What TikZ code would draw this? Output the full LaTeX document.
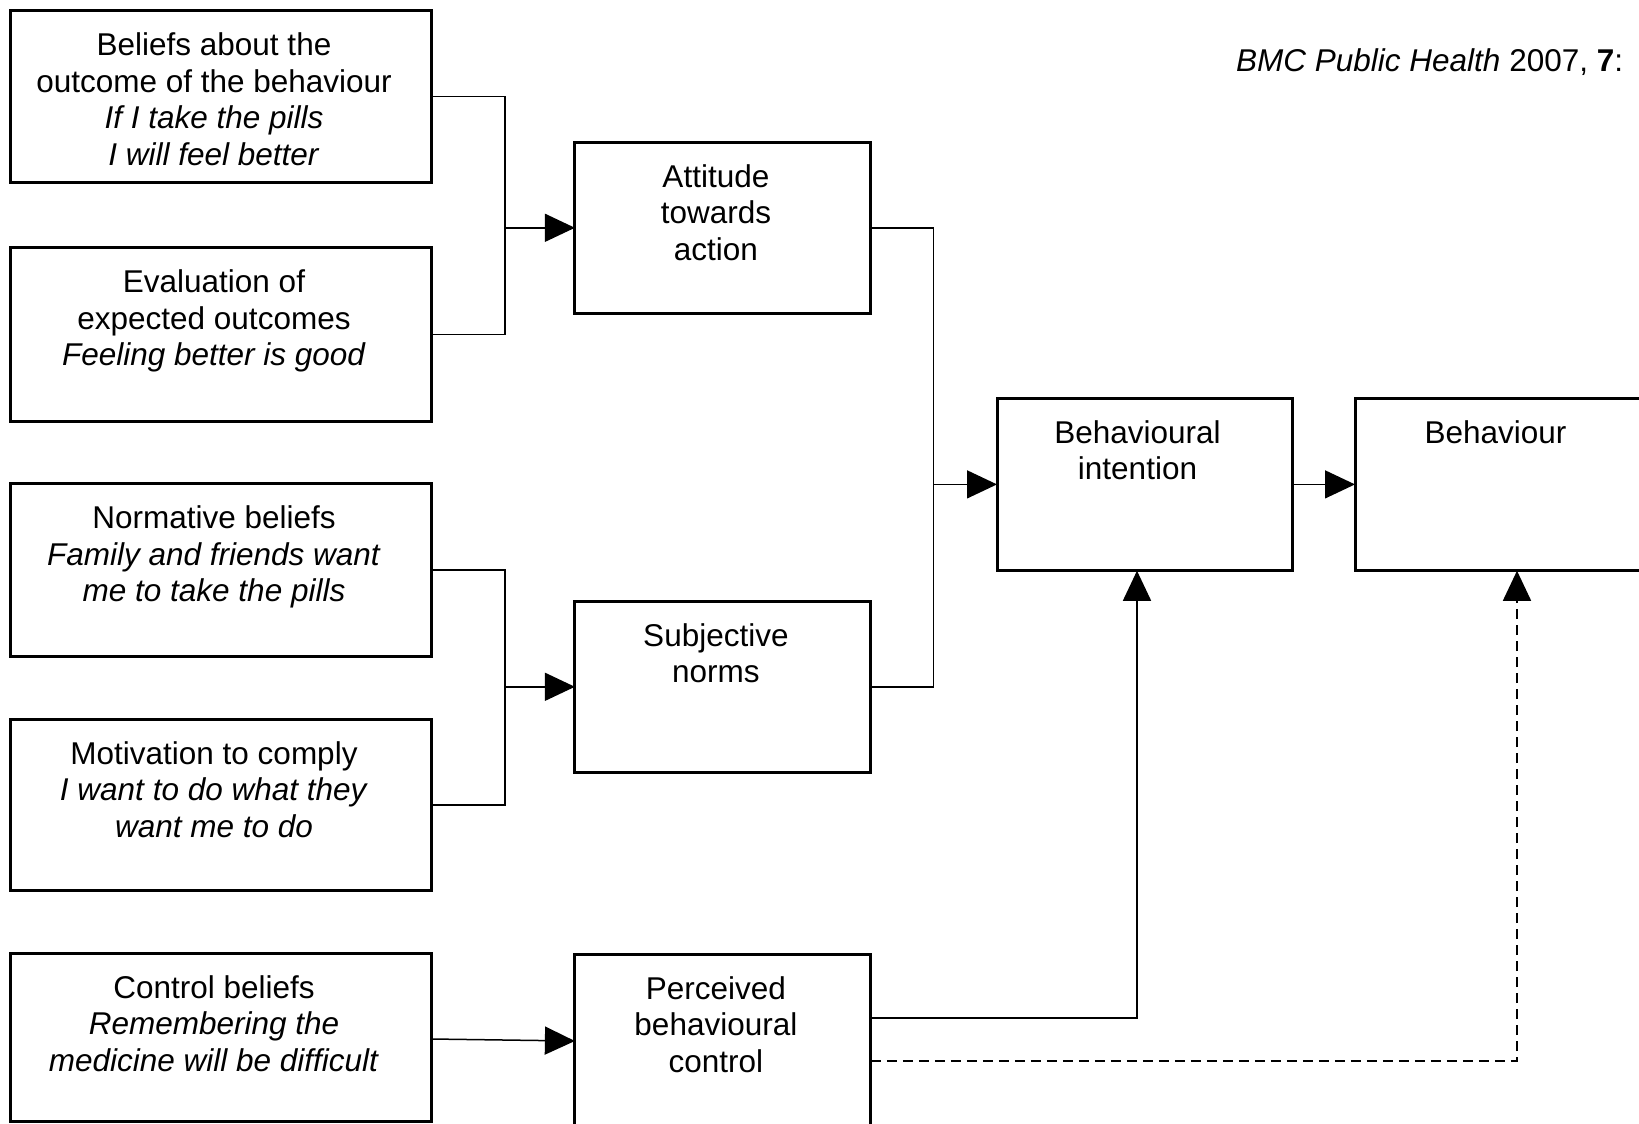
\documentclass[tikz,border=0pt]{standalone}
\usepackage{fontspec}
\setmainfont{Liberation Sans}
\usetikzlibrary{arrows.meta}
\begin{document}
\begin{tikzpicture}[x=1pt,y=-1pt,
  box/.style={draw,line width=3pt,inner sep=0pt,outer sep=0pt},
  lbox/.style={box,minimum width=421pt},
  mbox/.style={box,minimum width=296pt},
  txt/.style={anchor=north,inner sep=0pt,align=center,font=\fontsize{31.5}{36.6}\selectfont},
  conn/.style={line width=1.5pt},
  arr/.style={conn,-{Triangle[length=30pt,width=28pt]}},
  dashline/.style={line width=1.5pt,dash pattern=on 10pt off 6pt,-{Triangle[length=30pt,width=28pt]}}]
\useasboundingbox (0,0) rectangle (1639,1124);
\clip (0,0) rectangle (1639,1124);
% left boxes
\node[lbox,minimum height=172.5pt] (b1) at (221,96.7) {};
\node[lbox,minimum height=173.6pt] (b2) at (221,334.5) {};
\node[lbox,minimum height=172.5pt] (b3) at (221,570) {};
\node[lbox,minimum height=171.6pt] (b4) at (221,804.8) {};
\node[lbox,minimum height=168pt] (b5) at (221,1037) {};
% middle boxes
\node[mbox,minimum height=171.6pt] (att) at (722.9,227.8) {};
\node[mbox,minimum height=171.6pt] (sub) at (722.9,686.8) {};
\node[mbox,minimum height=176pt] (pbc) at (722.9,1042) {};
% right boxes
\node[box,minimum width=295pt,minimum height=172.7pt] (bi) at (1144.5,484.4) {};
\node[box,minimum width=305pt,minimum height=172.7pt] (beh) at (1507.5,484.4) {};
% texts
\node[txt] (t1) at ([xshift=-7pt,yshift=-22pt]b1.north) {Beliefs about the\\outcome of the behaviour\\\textit{If I take the pills}\\\textit{I will feel better}};
\node[txt] (t2) at ([xshift=-7pt,yshift=-22pt]b2.north) {Evaluation of\\expected outcomes\\\textit{Feeling better is good}};
\node[txt] (t3) at ([xshift=-7pt,yshift=-22pt]b3.north) {Normative beliefs\\\textit{Family and friends want}\\\textit{me to take the pills}};
\node[txt] (t4) at ([xshift=-7pt,yshift=-22pt]b4.north) {Motivation to comply\\\textit{I want to do what they}\\\textit{want me to do}};
\node[txt] (t5) at ([xshift=-7pt,yshift=-22pt]b5.north) {Control beliefs\\\textit{Remembering the}\\\textit{medicine will be difficult}};
\node[txt] (tatt) at ([xshift=-7pt,yshift=-22pt]att.north) {Attitude\\towards\\action};
\node[txt] (tsub) at ([xshift=-7pt,yshift=-22pt]sub.north) {Subjective\\norms};
\node[txt] (tpbc) at ([xshift=-7pt,yshift=-22pt]pbc.north) {Perceived\\behavioural\\control};
\node[txt] (tbi) at ([xshift=-7pt,yshift=-22pt]bi.north) {Behavioural\\intention};
\node[txt] (tbeh) at ([xshift=-12pt,yshift=-22pt]beh.north) {Behaviour};
\node[anchor=base west,inner sep=0pt,font=\fontsize{31.5}{36.6}\selectfont] (hdr) at (1236,72) {\textit{BMC Public Health} 2007, \textbf{7}:};
% connectors
\coordinate (j1) at (505,227.8);
\coordinate (j2) at (933.5,484.4);
\coordinate (j3) at (505,686.8);
\coordinate (c1) at (1137,1018);
\coordinate (c2) at (1517,1061);
\coordinate (s5) at (431.7,1039);
\coordinate (e5) at (575,1041);
\draw[conn] (b1.east) -| (j1) |- (b2.east);
\draw[arr] (j1) -- (att.west);
\draw[conn] (att.east) -| (j2) |- (sub.east);
\draw[arr] (j2) -- (bi.west);
\draw[conn] (b3.east) -| (j3) |- (b4.east);
\draw[arr] (j3) -- (sub.west);
\draw[arr] (b5.east |- s5) -- (pbc.west |- e5);
\draw[arr] (pbc.east |- c1) -| (bi.south -| c1);
\draw[dashline] (pbc.east |- c2) -| (beh.south -| c2);
\draw[arr] (bi.east) -- (beh.west);
\end{tikzpicture}
\end{document}
